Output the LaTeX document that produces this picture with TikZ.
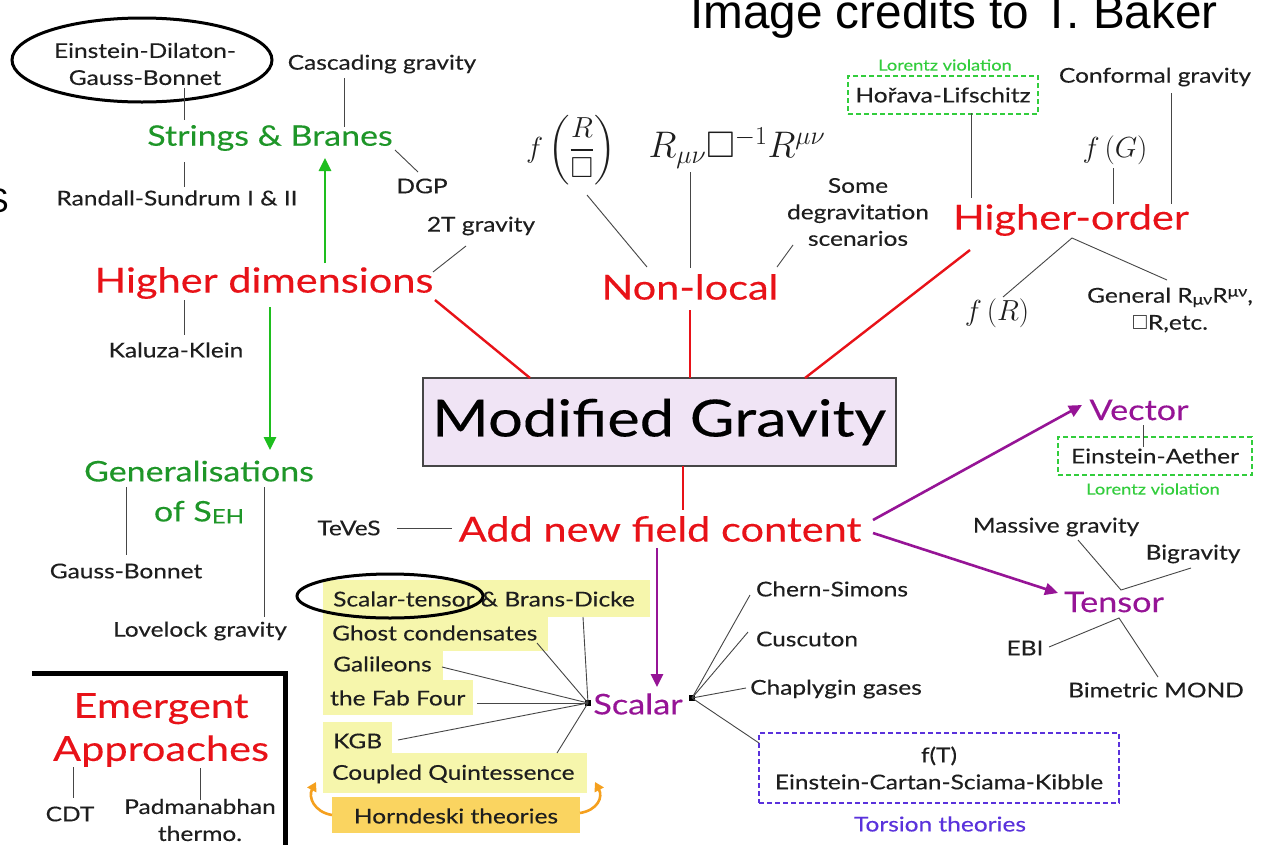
\RequirePackage{fix-cm}
\documentclass[tikz,border=0pt]{standalone}
\usepackage{amsmath,amssymb}
\usepackage{fontspec}
\setmainfont{Lato}[FakeStretch=1.2, FakeBold=0.25]
\newfontfamily\credfont{Liberation Sans}
\usetikzlibrary{arrows.meta,shapes.geometric}
\definecolor{mgred}{RGB}{232,18,24}
\definecolor{mggreen}{RGB}{30,150,40}
\definecolor{arrgreen}{RGB}{30,190,30}
\definecolor{lvgreen}{RGB}{50,205,60}
\definecolor{mgpurple}{RGB}{150,20,150}
\definecolor{torsion}{RGB}{90,50,220}
\definecolor{boxfill}{RGB}{240,228,245}
\definecolor{hl}{RGB}{246,246,172}
\definecolor{horn}{RGB}{250,212,96}
\definecolor{hornarr}{RGB}{245,160,30}
\definecolor{txt}{RGB}{30,30,30}
\definecolor{ln}{RGB}{70,70,70}
\begin{document}
\begin{tikzpicture}[x=1pt,y=-1pt,
  lab/.style={font=\fontsize{20.4}{27}\selectfont, text=txt, inner sep=0pt, align=center},
  bigred/.style={font=\fontsize{34.6}{43}\selectfont, text=mgred, inner sep=0pt, align=center},
  midgreen/.style={font=\fontsize{28.3}{40}\selectfont, text=mggreen, inner sep=0pt, align=center},
  midpurple/.style={font=\fontsize{28.5}{34}\selectfont, text=mgpurple, inner sep=0pt},
  lvtext/.style={font=\fontsize{15.2}{17}\selectfont, text=lvgreen, inner sep=0pt},
  mathlab/.style={font=\fontsize{29}{34}\selectfont, text=txt, inner sep=0pt},
  conn/.style={draw=ln, line width=0.9pt},
  redln/.style={draw=mgred, line width=2.4pt},
  greenarr/.style={draw=arrgreen, line width=2.6pt, -{Triangle[length=13pt,width=12pt]}},
  purparr/.style={draw=mgpurple, line width=2.6pt, -{Triangle[length=13pt,width=12pt]}},
  hornarrow/.style={draw=hornarr, line width=2.6pt, -{Triangle[length=9pt,width=10pt]}},
  dashgreen/.style={draw=lvgreen, line width=2pt, dash pattern=on 5pt off 3pt},
]
\useasboundingbox (0,0) rectangle (1278,844);
\fill[white] (0,0) rectangle (1278,844);

% credit and partial letter
\node[font=\credfont\fontsize{47.7}{47.7}\selectfont, anchor=base west, inner sep=0pt, text=black] (credit) at (690,28) {Image credits to T. Baker};
\node[font=\credfont\fontsize{34}{34}\selectfont, anchor=base east, inner sep=0pt, text=black] (cutS) at (9,212) {S};

% ---------------- top left: higher dimensions
\node[ellipse, draw=black, line width=3pt, minimum width=260pt, minimum height=84pt] (edgbell) at (142,60) {};
\node[lab] (edgb) at (145,64) {Einstein-Dilaton-\\Gauss-Bonnet};
\node[midgreen] (sb) at (270,138) {Strings \& Branes};
\node[lab] (cascading) at (382,64) {Cascading gravity};
\node[lab] (randall) at (177,198) {Randall-Sundrum I \& II};
\node[lab] (dgp) at (422,186) {DGP};
\node[lab] (twoT) at (481,226) {2T gravity};
\node[bigred] (hd) at (264,283) {Higher dimensions};
\node[lab] (kaluza) at (176,350) {Kaluza-Klein};

\draw[conn] (184,88) -- (184,120);
\draw[conn] (184,162) -- (184,187);
\draw[conn] (344,78) -- (344,127);
\draw[conn] (395,150) -- (418,172);
\draw[conn] (433,272) -- (466,246);
\draw[conn] (184,300) -- (184,335);
\draw[greenarr] (325,263) -- (325,158);
\draw[greenarr] (270,307) -- (270,450);

% ---------------- generalisations
\node[midgreen] (gen) at (199,492) {Generalisations\\of S{\fontsize{20}{20}\selectfont\raisebox{-2pt}{EH}}};
\node[lab] (gaussb) at (126,571) {Gauss-Bonnet};
\node[lab] (lovelock) at (200,631) {Lovelock gravity};
\draw[conn] (126,487) -- (126,555);
\draw[conn] (264,487) -- (264,617);

% ---------------- emergent
\draw[line width=5pt, draw=black] (32,673) -- (285,673) -- (285,850);
\node[bigred] (emerg) at (161,730) {Emergent\\Approaches};
\node[lab] (cdt) at (70,814) {CDT};
\node[lab] (padma) at (200,820) {Padmanabhan\\thermo.};
\draw[conn] (73,767) -- (73,798);
\draw[conn] (200,768) -- (200,800);

% ---------------- non-local
\node[mathlab] (fbox) at (571,150) {$f\left(\dfrac{R}{\Box}\right)$};
\node[mathlab, font=\fontsize{37}{42}\selectfont] (ricci) at (737,148) {$R_{\mu\nu}\Box^{-1}R^{\mu\nu}$};
\node[lab, font=\fontsize{20.4}{26.5}\selectfont] (degrav) at (858,212) {Some\\degravitation\\scenarios};
\node[bigred] (nl) at (690,287) {Non-local};
\draw[conn] (587,195) -- (647,267);
\draw[conn] (690,172) -- (690,268);
\draw[conn] (777,267) -- (793,245);

% ---------------- higher-order
\node[lvtext] (lv1) at (945,65) {Lorentz violation};
\node[lab, dashgreen, minimum width=190pt, minimum height=38pt] (horava) at (943,95) {Hořava-Lifschitz};
\node[lab] (conformal) at (1155,77) {Conformal gravity};
\node[mathlab] (fG) at (1115,150) {$f\left(G\right)$};
\node[bigred] (ho) at (1071,220) {Higher-order};
\node[mathlab] (fR) at (997,313) {$f\left(R\right)$};
\node[lab] (general) at (1170,310) {General R{\fontsize{15}{15}\selectfont\raisebox{-2pt}{μν}}R{\fontsize{15}{15}\selectfont\raisebox{6pt}{μν}},\\$\Box$R,etc.};
\draw[conn] (971,113) -- (971,198);
\draw[conn] (1171,93) -- (1171,204);
\draw[conn] (1113,168) -- (1113,204);
\draw[conn] (1003,297) -- (1072,238) -- (1167,280);

% ---------------- central box and red connectors
\node[draw=ln, line width=2pt, fill=boxfill, minimum width=473pt, minimum height=88pt, inner sep=0pt, font=\fontsize{51.2}{60}\selectfont, text=black] (mg) at (659,422) {Modified Gravity};
\draw[redln] (435,300) -- (530,378);
\draw[redln] (690,310) -- (690,378);
\draw[redln] (970,250) -- (805,378);
\draw[redln] (683,466) -- (683,510);

% ---------------- add new field content
\node[bigred] (anfc) at (660,529) {Add new field content};
\node[lab] (teves) at (349,528) {TeVeS};
\draw[conn] (397,528) -- (452,528);
\draw[purparr] (873,520) -- (1082,405);
\draw[purparr] (873,533) -- (1058,593);
\draw[purparr] (657,548) -- (657,687);

% ---------------- vector / tensor
\node[midpurple] (vector) at (1139,410) {Vector};
\node[lab, dashgreen, minimum width=194pt, minimum height=38pt] (aether) at (1155,456) {Einstein-Aether};
\node[lvtext] (lv2) at (1153,489) {Lorentz violation};
\draw[conn] (1143,425) -- (1143,447);
\node[midpurple] (tensor) at (1114,602) {Tensor};
\node[lab] (massive) at (1056,527) {Massive gravity};
\node[lab] (bigrav) at (1193,554) {Bigravity};
\node[lab] (ebi) at (1025,648) {EBI};
\node[lab] (bimetric) at (1156,690) {Bimetric MOND};
\draw[conn] (1078,540) -- (1121,590) -- (1191,568);
\draw[conn] (1049,647) -- (1119,618) -- (1158,677);

% ---------------- scalar
\fill[hl] (323,580) rectangle (650,617);
\fill[hl] (323,616) rectangle (548,651);
\fill[hl] (323,650) rectangle (443,681);
\fill[hl] (323,680) rectangle (473,715);
\fill[hl] (323,722) rectangle (392,754);
\fill[hl] (323,753) rectangle (587,793);
\fill[horn] (332,797) rectangle (580,833);
\node[lab, anchor=west] (st) at (333,599) {Scalar-tensor \& Brans-Dicke};
\node[lab, anchor=west] (ghost) at (332,633) {Ghost condensates};
\node[lab, anchor=west] (gal) at (333,664) {Galileons};
\node[lab, anchor=west] (fab) at (330,698) {the Fab Four};
\node[lab, anchor=west] (kgb) at (333,741) {KGB};
\node[lab, anchor=west] (cq) at (332,774) {Coupled Quintessence};
\node[lab] (horndeski) at (456,816) {Horndeski theories};
\node[ellipse, draw=black, line width=3pt, minimum width=186pt, minimum height=44pt] (stell) at (390,596) {};
\draw[hornarrow] (332,815) .. controls (314,812) and (308,797) .. (316,782);
\draw[hornarrow] (580,813) .. controls (598,810) and (603,797) .. (595,782);

\node[midpurple] (scalar) at (638,704) {Scalar};
\coordinate (hubL) at (588,703);
\coordinate (hubR) at (692,698);
\fill[black] (585,700) rectangle (591,706);
\fill[black] (689,695) rectangle (695,701);
\draw[conn] (hubL) -- (583,617);
\draw[conn] (hubL) -- (537,643);
\draw[conn] (hubL) -- (442,667);
\draw[conn] (hubL) -- (477,703);
\draw[conn] (hubL) -- (398,740);
\draw[conn] (hubL) -- (557,753);

\node[lab] (chern) at (832,589) {Chern-Simons};
\node[lab] (cusc) at (807,639) {Cuscuton};
\node[lab] (chap) at (836,689) {Chaplygin gases};
\node[lab, draw=torsion, line width=2pt, dash pattern=on 5pt off 3pt, minimum width=360pt, minimum height=70pt] (tors) at (939,768) {f(T)\\Einstein-Cartan-Sciama-Kibble};
\node[lab, text=torsion] (torslab) at (940,824) {Torsion theories};
\draw[conn] (hubR) -- (750,595);
\draw[conn] (hubR) -- (748,632);
\draw[conn] (hubR) -- (746,688);
\draw[conn] (hubR) -- (759,743);
\end{tikzpicture}
\end{document}
